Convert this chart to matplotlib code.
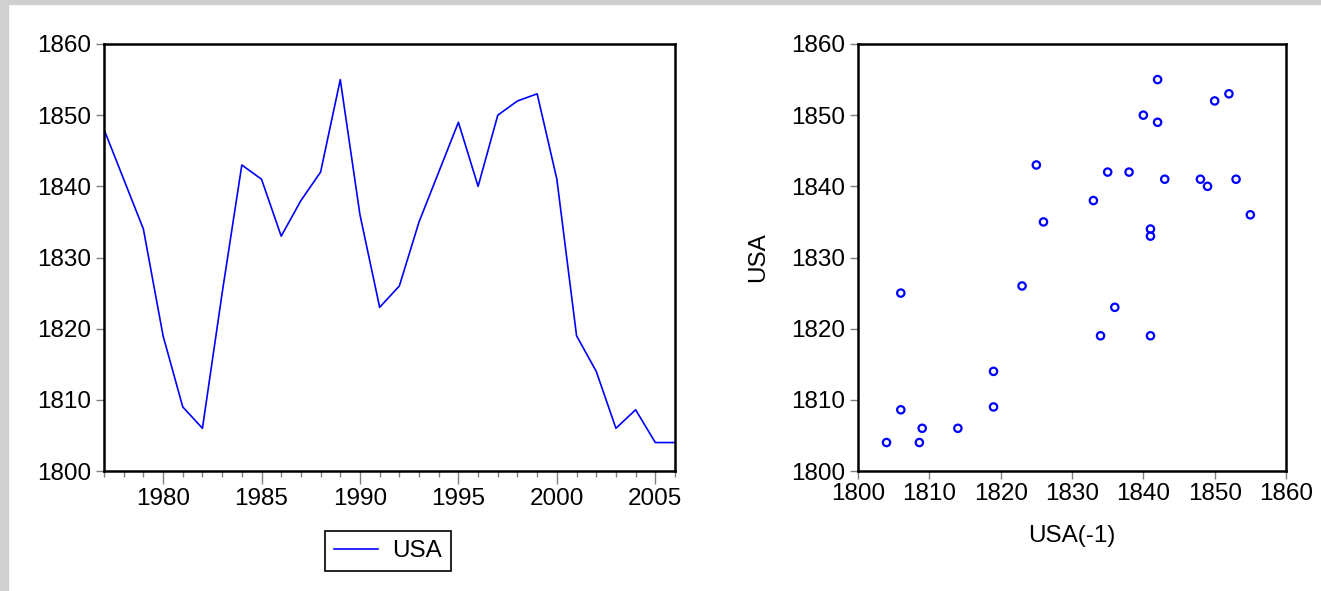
import matplotlib
matplotlib.use("Agg")
import matplotlib.pyplot as plt
from matplotlib.ticker import MultipleLocator
from matplotlib.lines import Line2D

plt.rcParams["font.family"] = ["Liberation Sans", "DejaVu Sans"]
plt.rcParams["font.size"] = 17.5

years = list(range(1977, 2007))
usa = [1848, 1841, 1834, 1819, 1809, 1806, 1825, 1843, 1841, 1833,
       1838, 1842, 1855, 1836, 1823, 1826, 1835, 1842, 1849, 1840,
       1850, 1852, 1853, 1841, 1819, 1814, 1806, 1808.6, 1804, 1804]
usa_lag = usa[:-1]
usa_now = usa[1:]

line_color = "#0000ff"
tick_color = "#808080"

fig = plt.figure(figsize=(13.21, 5.91), dpi=100)

# grey frame at top and left, like the original screenshot
fig.patches.append(plt.Rectangle((0, 1 - 4 / 591), 1, 4 / 591, transform=fig.transFigure,
                                 color="#d0d0d0", zorder=0))
fig.patches.append(plt.Rectangle((0, 0), 8 / 1321, 1, transform=fig.transFigure,
                                 color="#d0d0d0", zorder=0))

ax1 = fig.add_axes([104 / 1321, 120 / 591, 571 / 1321, 427 / 591])
ax2 = fig.add_axes([858 / 1321, 120 / 591, 428 / 1321, 427 / 591])

ax1.plot(years, usa, color=line_color, lw=1.2)
ax1.set_xlim(1977, 2006)
ax1.set_ylim(1800, 1860)
ax1.xaxis.set_major_locator(MultipleLocator(5))
ax1.xaxis.set_minor_locator(MultipleLocator(1))
ax1.yaxis.set_major_locator(MultipleLocator(10))

ax2.scatter(usa_lag, usa_now, s=28, facecolors="none", edgecolors=line_color, linewidths=1.6)
ax2.set_xlim(1800, 1860)
ax2.set_ylim(1800, 1860)
ax2.xaxis.set_major_locator(MultipleLocator(10))
ax2.yaxis.set_major_locator(MultipleLocator(10))
ax2.set_xlabel("USA(-1)", labelpad=14)
ax2.set_ylabel("USA", labelpad=16)

for ax in (ax1, ax2):
    for sp in ax.spines.values():
        sp.set_linewidth(1.8)
        sp.set_color("black")
    ax.tick_params(which="major", direction="out", length=6, width=1, color=tick_color, pad=3)
    ax.tick_params(which="minor", direction="out", length=4, width=1, color=tick_color)
ax1.tick_params(axis="x", which="major", length=9)

handle = Line2D([], [], color=line_color, lw=1.2)
leg = fig.legend([handle], ["USA"], loc="center", bbox_to_anchor=(388 / 1321, 1 - 551 / 591),
                 fancybox=False, framealpha=1, edgecolor="black", handlelength=1.8,
                 handletextpad=0.6, borderpad=0.35, borderaxespad=0)
leg.get_frame().set_linewidth(1.2)

fig.savefig("out.png", dpi=100)
